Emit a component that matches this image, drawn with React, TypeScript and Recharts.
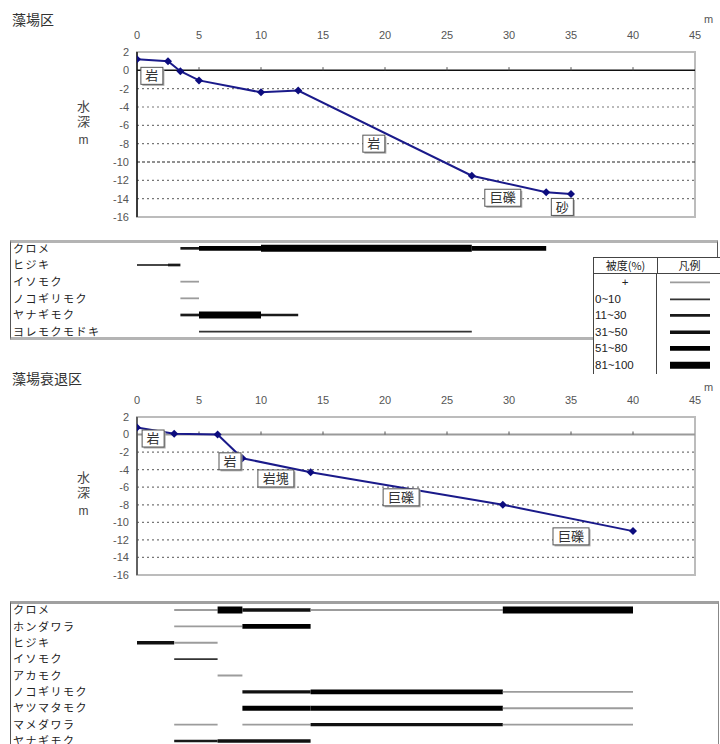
import React from 'react';
import { LineChart, Line, XAxis, YAxis, ReferenceLine, ReferenceArea, ReferenceDot } from 'recharts';

const JP = '"Noto Sans CJK JP", "Liberation Sans", sans-serif';
const NUM = '"Liberation Sans", "Noto Sans CJK JP", sans-serif';

// ---- shared axes ----
const distanceTicks = [0, 5, 10, 15, 20, 25, 30, 35, 40, 45];
const depthTicks = [2, 0, -2, -4, -6, -8, -10, -12, -14, -16];
const gridDepths = [-2, -4, -6, -8, -10, -12, -14];
const zeroTickDistances = [5, 10, 15, 20, 25, 30, 35, 40];

// ---- cover classes (legend) ----
const coverClasses = ['+', '0~10', '11~30', '31~50', '51~80', '81~100'];
const coverStroke = ['#9c9c9c', '#333333', '#1a1a1a', '#111111', '#000000', '#000000'];
const coverWidth = [1.8, 1.8, 2.7, 3.4, 4.8, 7];

// ---- site A : 藻場区 ----
const siteA_title = '藻場区';
const siteA_distance = [0, 2.5, 3.5, 5, 10, 13, 27, 33, 35];
const siteA_depth = [1.2, 1.0, -0.1, -1.1, -2.4, -2.2, -11.5, -13.3, -13.5];
const siteA_substrate = ['岩', '岩', '巨礫', '砂'];
const siteA_substrateDistance = [1.2, 19.1, 29.5, 34.3];
const siteA_substrateDepth = [-0.6, -8.0, -13.9, -14.9];
const siteA_species = ['クロメ', 'ヒジキ', 'イソモク', 'ノコギリモク', 'ヤナギモク', 'ヨレモクモドキ'];
// [species index, from (m), to (m), cover class index]
const siteA_cover: number[][] = [
  [0, 3.5, 5, 2], [0, 5, 10, 4], [0, 10, 27, 5], [0, 27, 33, 4],
  [1, 0, 2.5, 1], [1, 2.5, 3.5, 2],
  [2, 3.5, 5, 0],
  [3, 3.5, 5, 0],
  [4, 3.5, 5, 2], [4, 5, 10, 5], [4, 10, 13, 2],
  [5, 5, 27, 1],
];

// ---- site B : 藻場衰退区 ----
const siteB_title = '藻場衰退区';
const siteB_distance = [0, 3, 6.5, 8.5, 14, 29.5, 40];
const siteB_depth = [0.8, 0.1, 0, -2.7, -4.3, -8.0, -11.0];
const siteB_substrate = ['岩', '岩', '岩塊', '巨礫', '巨礫'];
const siteB_substrateDistance = [1.3, 7.5, 11.2, 21.3, 35.0];
const siteB_substrateDepth = [-0.45, -3.05, -5.0, -7.15, -11.6];
const siteB_species = ['クロメ', 'ホンダワラ', 'ヒジキ', 'イソモク', 'アカモク', 'ノコギリモク', 'ヤツマタモク', 'マメダワラ', 'ヤナギモク'];
const siteB_cover: number[][] = [
  [0, 3, 6.5, 0], [0, 6.5, 8.5, 5], [0, 8.5, 14, 3], [0, 14, 29.5, 0], [0, 29.5, 40, 5],
  [1, 3, 8.5, 0], [1, 8.5, 14, 4],
  [2, 0, 3, 3], [2, 3, 6.5, 0],
  [3, 3, 6.5, 1],
  [4, 6.5, 8.5, 0],
  [5, 8.5, 14, 3], [5, 14, 29.5, 4], [5, 29.5, 40, 0],
  [6, 8.5, 14, 4], [6, 14, 29.5, 4], [6, 29.5, 40, 0],
  [7, 3, 6.5, 0], [7, 8.5, 14, 0], [7, 14, 29.5, 3], [7, 29.5, 40, 0],
  [8, 3, 6.5, 2], [8, 6.5, 14, 3],
];

const Diamond = (p: any) => {
  const { cx, cy, index } = p;
  if (cx == null || cy == null) return <g key={`e${index}`} />;
  const r = 4;
  return (
    <path
      key={`d${index}`}
      d={`M${cx},${cy - r}L${cx + r},${cy}L${cx},${cy + r}L${cx - r},${cy}Z`}
      fill="#0c0c7e"
    />
  );
};

const substrateShape = (text: string) => (p: any) => {
  const { cx, cy } = p;
  const w = 14 * text.length + 8;
  const h = 17;
  return (
    <g>
      <rect x={cx - w / 2 + 1.5} y={cy - h / 2 + 1.5} width={w} height={h} fill="#a8a8a8" />
      <rect x={cx - w / 2} y={cy - h / 2} width={w} height={h} fill="#ffffff" stroke="#555" strokeWidth={1} />
      <text x={cx} y={cy} dy={4.6} textAnchor="middle" fontSize={13} fill="#333" fontFamily={JP}>
        {text}
      </text>
    </g>
  );
};

type ProfileProps = {
  distance: number[];
  depth: number[];
  substrate: string[];
  substrateDistance: number[];
  substrateDepth: number[];
  top: number;
  marginTop: number;
  marginBottom: number;
  zeroStroke: string;
  zeroWidth: number;
  axisStroke: string;
  darkGrid: number;
};

function Profile(props: ProfileProps) {
  const data = props.distance.map((x, i) => ({ x, depth: props.depth[i] }));
  return (
    <div style={{ position: 'absolute', left: 0, top: props.top }}>
      <LineChart
        width={720}
        height={230}
        data={data}
        margin={{ top: props.marginTop, right: 25, bottom: props.marginBottom, left: 97 }}
      >
        <XAxis
          dataKey="x"
          type="number"
          domain={[0, 45]}
          ticks={distanceTicks}
          interval={0}
          orientation="top"
          axisLine={false}
          tickLine={false}
          tickSize={6}
          tickMargin={7}
          height={20}
          allowDataOverflow
          tick={{ fontSize: 11, fill: '#555', fontFamily: NUM }}
        />
        <YAxis
          type="number"
          domain={[-16, 2]}
          ticks={depthTicks}
          interval={0}
          axisLine={false}
          tickLine={false}
          tickSize={4}
          tickMargin={4}
          width={40}
          allowDataOverflow
          tick={{ fontSize: 11, fill: '#555', fontFamily: NUM }}
        />
        <ReferenceArea x1={0} x2={45} y1={-16} y2={2} fill="none" stroke="#bcbcbc" strokeWidth={2} />
        {gridDepths.map((g) => (
          <ReferenceLine
            key={`g${g}`}
            y={g}
            stroke={g === props.darkGrid ? '#222' : '#777'}
            strokeWidth={1.2}
            strokeDasharray={g === props.darkGrid ? '3 2' : '2 3'}
          />
        ))}
        <ReferenceLine y={0} stroke={props.zeroStroke} strokeWidth={props.zeroWidth} />
        {zeroTickDistances.map((d) => (
          <ReferenceLine
            key={`t${d}`}
            segment={[{ x: d, y: 0 }, { x: d, y: 0.35 }]}
            stroke="#555"
            strokeWidth={1}
          />
        ))}
        <ReferenceLine x={0} stroke={props.axisStroke} strokeWidth={1.5} />
        <Line
          dataKey="depth"
          stroke="#1a1a8a"
          strokeWidth={2}
          dot={Diamond}
          activeDot={false}
          isAnimationActive={false}
        />
        {props.substrate.map((s, i) => (
          <ReferenceDot
            key={`s${i}`}
            x={props.substrateDistance[i]}
            y={props.substrateDepth[i]}
            r={0}
            ifOverflow="visible"
            shape={substrateShape(s)}
          />
        ))}
      </LineChart>
    </div>
  );
}

type PanelProps = {
  species: string[];
  cover: number[][];
  top: number;
  height: number;
  marginTop: number;
  marginBottom: number;
};

function CoverPanel(props: PanelProps) {
  const n = props.species.length;
  const rows = props.species.map((_, i) => i);
  const NameTick = (p: any) => (
    <text
      x={13}
      y={p.y}
      dy={4.2}
      fontSize={11}
      fill="#222"
      fontFamily={JP}
      style={{ letterSpacing: '1.5px' }}
    >
      {props.species[p.payload.value]}
    </text>
  );
  return (
    <div style={{ position: 'absolute', left: 0, top: props.top }}>
      <LineChart
        width={720}
        height={props.height}
        margin={{ top: props.marginTop, right: 25, bottom: props.marginBottom, left: 12 }}
      >
        <XAxis dataKey="x" type="number" domain={[0, 45]} hide allowDataOverflow />
        <YAxis
          type="number"
          domain={[-0.5, n - 0.5]}
          reversed
          ticks={rows}
          interval={0}
          axisLine={false}
          tickLine={false}
          width={125}
          allowDataOverflow
          tick={NameTick}
        />
        {props.cover.map((c, i) => (
          <Line
            key={`c${i}`}
            data={[
              { x: c[1], row: c[0] },
              { x: c[2], row: c[0] },
            ]}
            dataKey="row"
            stroke={coverStroke[c[3]]}
            strokeWidth={coverWidth[c[3]]}
            dot={false}
            activeDot={false}
            isAnimationActive={false}
          />
        ))}
      </LineChart>
    </div>
  );
}

function DepthLabel({ top }: { top: number }) {
  return (
    <>
      <div
        style={{
          position: 'absolute',
          left: 76,
          top,
          writingMode: 'vertical-rl',
          fontSize: 13,
          letterSpacing: '1.5px',
          lineHeight: '15px',
          color: '#444',
          fontFamily: JP,
        }}
      >
        水深
      </div>
      <div
        style={{
          position: 'absolute',
          left: 76,
          top: top + 33,
          width: 15,
          textAlign: 'center',
          fontSize: 12,
          lineHeight: '14px',
          color: '#444',
          fontFamily: NUM,
        }}
      >
        m
      </div>
    </>
  );
}

function CoverLegend() {
  const line = '1px solid #444';
  return (
    <div
      style={{
        position: 'absolute',
        left: 593,
        top: 257,
        width: 140,
        background: '#fff',
        borderTop: line,
        borderLeft: line,
        fontSize: 11.5,
        color: '#222',
        fontFamily: JP,
      }}
    >
      <div style={{ display: 'flex', height: 15, lineHeight: '15px', borderBottom: line, fontSize: 11 }}>
        <div style={{ width: 63, borderRight: line, textAlign: 'center' }}>被度(%)</div>
        <div style={{ width: 63, textAlign: 'center' }}>凡例</div>
      </div>
      {coverClasses.map((c, i) => (
        <div key={c} style={{ display: 'flex', height: 16.6, lineHeight: '16.6px' }}>
          <div
            style={{
              width: 63,
              borderRight: line,
              textAlign: i === 0 ? 'center' : 'left',
              paddingLeft: i === 0 ? 0 : 1,
              boxSizing: 'border-box',
              fontFamily: NUM,
            }}
          >
            {c}
          </div>
          <svg width={70} height={16.6}>
            <line x1={13} x2={53} y1={8.3} y2={8.3} stroke={coverStroke[i]} strokeWidth={coverWidth[i]} />
          </svg>
        </div>
      ))}
    </div>
  );
}

export default function App() {
  return (
    <div
      style={{
        position: 'absolute',
        left: 0,
        top: 0,
        width: 720,
        height: 744,
        overflow: 'hidden',
        background: '#fff',
        fontFamily: JP,
      }}
    >
      {/* Site A */}
      <div style={{ position: 'absolute', left: 12, top: 11, fontSize: 14, lineHeight: '16px', color: '#333' }}>
        {siteA_title}
      </div>
      <div style={{ position: 'absolute', left: 704, top: 13, fontSize: 11, lineHeight: '12px', color: '#555', fontFamily: NUM }}>m</div>
      <DepthLabel top={100} />
      <Profile
        distance={siteA_distance}
        depth={siteA_depth}
        substrate={siteA_substrate}
        substrateDistance={siteA_substrateDistance}
        substrateDepth={siteA_substrateDepth}
        top={0}
        marginTop={32}
        marginBottom={13}
        zeroStroke="#111"
        zeroWidth={1.5}
        axisStroke="#111"
        darkGrid={-10}
      />
      <div
        style={{
          position: 'absolute',
          left: 10,
          top: 240,
          width: 708,
          height: 100,
          boxSizing: 'border-box',
          borderTop: '3px solid #b4b4b4',
          borderBottom: '3px solid #b4b4b4',
          borderLeft: '1px solid #555',
          borderRight: '1px solid #555',
        }}
      />
      <CoverPanel species={siteA_species} cover={siteA_cover} top={230} height={120} marginTop={10} marginBottom={10} />
      <CoverLegend />

      {/* Site B */}
      <div style={{ position: 'absolute', left: 12, top: 370, fontSize: 14, lineHeight: '16px', color: '#333' }}>
        {siteB_title}
      </div>
      <div style={{ position: 'absolute', left: 704, top: 381, fontSize: 11, lineHeight: '12px', color: '#555', fontFamily: NUM }}>m</div>
      <DepthLabel top={471} />
      <Profile
        distance={siteB_distance}
        depth={siteB_depth}
        substrate={siteB_substrate}
        substrateDistance={siteB_substrateDistance}
        substrateDepth={siteB_substrateDepth}
        top={360}
        marginTop={37}
        marginBottom={15}
        zeroStroke="#9a9a9a"
        zeroWidth={2}
        axisStroke="#444"
        darkGrid={-99}
      />
      <div
        style={{
          position: 'absolute',
          left: 10,
          top: 601,
          width: 709,
          height: 160,
          boxSizing: 'border-box',
          borderTop: '3px solid #a0a0a0',
          borderLeft: '1px solid #555',
          borderRight: '1.5px solid #888',
        }}
      />
      <CoverPanel species={siteB_species} cover={siteB_cover} top={595} height={160} marginTop={6.8} marginBottom={5.8} />
    </div>
  );
}
